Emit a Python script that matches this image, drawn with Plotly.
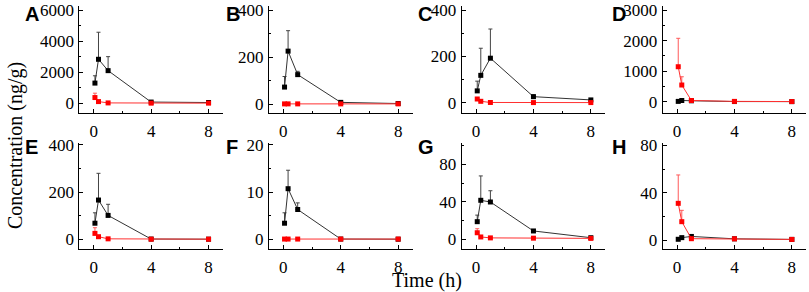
import plotly.graph_objects as go

# ---- data ----
time_h = [0.083, 0.33, 1, 4, 8]

black_A = [1300, 2830, 2100, 80, 50]
black_A_err = [470, 1740, 900, 0, 0]
red_A = [370, 110, 25, 10, 10]
red_A_err = [280, 0, 0, 0, 0]

black_B = [72, 225, 125, 7, 2]
black_B_err = [45, 87, 14, 0, 0]
red_B = [0.5, 0.5, 0.5, 0.5, 0.5]
red_B_err = [0, 0, 0, 0, 0]

black_C = [51, 118, 192, 26, 12]
black_C_err = [42, 117, 126, 8, 3]
red_C = [16, 6, 1, 0.5, 0.5]
red_C_err = [4, 0, 0, 0, 0]

black_D = [10, 40, 30, 5, 3]
black_D_err = [0, 0, 0, 0, 0]
red_D = [1144, 546, 40, 10, 5]
red_D_err = [930, 270, 0, 0, 0]

black_E = [68, 166, 101, 1, 0.5]
black_E_err = [44, 113, 47, 0, 0]
red_E = [25, 11, 2, 0.5, 0.5]
red_E_err = [24, 0, 0, 0, 0]

black_F = [3.4, 10.7, 6.3, 0.05, 0.02]
black_F_err = [2.2, 3.9, 1.4, 0, 0]
red_F = [0.05, 0.05, 0.05, 0.05, 0.05]
red_F_err = [0, 0, 0, 0, 0]

black_G = [18.8, 41.6, 39.8, 8.9, 1.7]
black_G_err = [7, 26, 12, 1, 0]
red_G = [7, 2.5, 1.5, 1.2, 1]
red_G_err = [4.3, 0, 0, 0, 0]

black_H = [0.6, 2, 3, 1, 0.5]
black_H_err = [0, 0, 0, 0, 0]
red_H = [31, 15.5, 1.1, 1, 0.5]
red_H_err = [24, 9.6, 0, 0, 0]

panel_letters = ["A", "B", "C", "D", "E", "F", "G", "H"]
x_ticks = [0, 4, 8]
y_dticks = [2000, 200, 200, 1000, 200, 10, 40, 40]

# ---- layout geometry (pixels) ----
W, H = 809, 292
col_left = [79.4, 269.0, 461.7, 662.7]
plot_w = 143.5
row_top = [6, 143]
row_bot = [113.3, 249.3]
zero_px = [103.3, 104.0, 102.7, 101.7, 239.3, 239.3, 239.3, 240.0]
top_px = [10.0, 10.0, 10.0, 10.0, 192.0, 192.0, 164.3, 192.7]
top_val = [6000, 400, 400, 3000, 200, 10, 80, 40]
letter_left = [23, 224, 416, 610, 23, 224, 416, 610]
letter_y = [14, 147]

blacks = [(black_A, black_A_err), (black_B, black_B_err), (black_C, black_C_err), (black_D, black_D_err),
          (black_E, black_E_err), (black_F, black_F_err), (black_G, black_G_err), (black_H, black_H_err)]
reds = [(red_A, red_A_err), (red_B, red_B_err), (red_C, red_C_err), (red_D, red_D_err),
        (red_E, red_E_err), (red_F, red_F_err), (red_G, red_G_err), (red_H, red_H_err)]

SERIF = "Liberation Serif"
SANS = "Liberation Sans"

fig = go.Figure()
annotations = []
axes = {}

for i in range(8):
    r, c = divmod(i, 4)
    n = "" if i == 0 else str(i + 1)
    xa, ya = "x" + n, "y" + n
    for (vals, err), col, ecol, lcol in [
        (blacks[i], "black", "#444444", "#333333"),
        (reds[i], "#ff0000", "#ff5a5a", "#ff3030"),
    ]:
        fig.add_trace(go.Scatter(
            x=time_h, y=vals, xaxis=xa, yaxis=ya, mode="lines+markers",
            line=dict(color=lcol, width=1),
            marker=dict(symbol="square", size=5, color=col),
            error_y=dict(type="data", symmetric=False, array=err,
                         arrayminus=[0] * len(err), color=ecol,
                         thickness=1, width=2),
            showlegend=False, cliponaxis=False,
        ))
    pt, pb = row_top[r], row_bot[r]
    s = (zero_px[i] - top_px[i]) / top_val[i]
    y_lo = -(pb - zero_px[i]) / s
    y_hi = (zero_px[i] - pt) / s
    xl = col_left[c]
    axes["xaxis" + n] = dict(
        domain=[xl / W, (xl + plot_w) / W], anchor=ya, range=[-1, 9],
        tickmode="array", tickvals=x_ticks, ticks="inside", ticklen=4, tickwidth=1, tickcolor="black",
        showline=True, linecolor="black", linewidth=1, showgrid=False, zeroline=False,
        automargin=False, ticklabelstandoff=2,
        tickfont=dict(family=SERIF, size=17, color="black"),
        minor=dict(tickvals=[2, 6], ticks="inside", ticklen=2, tickcolor="black"),
    )
    axes["yaxis" + n] = dict(
        domain=[1 - pb / H, 1 - pt / H], anchor=xa, range=[y_lo, y_hi],
        tickmode="linear", tick0=0, dtick=y_dticks[i], ticks="inside", ticklen=4, tickwidth=1,
        tickcolor="black", automargin=False,
        showline=True, linecolor="black", linewidth=1, showgrid=False, zeroline=False,
        tickfont=dict(family=SERIF, size=17, color="black"), ticklabelstandoff=1,
        minor=dict(dtick=y_dticks[i] / 2, ticks="inside", ticklen=2, tickcolor="black"),
    )
    annotations.append(dict(
        text="<b>%s</b>" % panel_letters[i], xref="paper", yref="paper",
        x=letter_left[i] / W, y=1 - letter_y[r] / H, xanchor="left", yanchor="middle",
        showarrow=False, font=dict(family=SANS, size=20, color="black"),
    ))

annotations.append(dict(
    text="Concentration (ng/g)", xref="paper", yref="paper", x=15 / W, y=1 - 146 / H,
    xanchor="center", yanchor="middle", textangle=-90, showarrow=False,
    font=dict(family=SERIF, size=20, color="black"),
))
annotations.append(dict(
    text="Time (h)", xref="paper", yref="paper", x=427 / W, y=1 - 280 / H,
    xanchor="center", yanchor="middle", showarrow=False,
    font=dict(family=SERIF, size=20, color="black"),
))

fig.update_layout(
    template="none",
    width=W, height=H, margin=dict(l=0, r=0, t=0, b=0, autoexpand=False),
    font=dict(family=SERIF, size=17, color="black"),
    paper_bgcolor="white", plot_bgcolor="white", annotations=annotations,
    **axes,
)
fig.write_html(
    "out.html",
    config={"displayModeBar": False},
    post_script="document.body.style.margin='0';document.body.style.padding='0';document.body.style.overflow='hidden';",
)
